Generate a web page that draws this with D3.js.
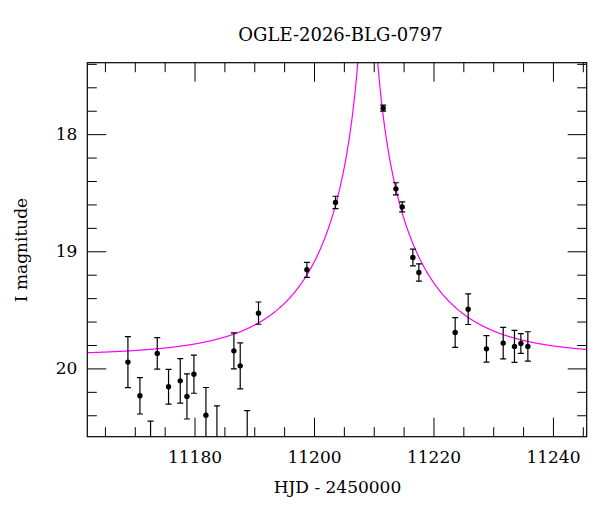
<!DOCTYPE html>
<html>
<head>
<meta charset="utf-8">
<script src="https://cdn.jsdelivr.net/npm/d3@7"></script>
<style>
  body { margin: 0; background: #fff; }
  text { font-family: "DejaVu Serif", serif; fill: #000; }
</style>
</head>
<body>
<div id="chart"></div>
<script>
// photometry, HJD - 2450000, I mag, 1-sigma errors
const hjd = [11168.85, 11170.86, 11172.64, 11173.76, 11175.65, 11177.61, 11178.73,
  11179.90, 11181.91, 11183.75, 11186.59, 11187.65, 11188.82, 11190.71, 11198.81,
  11203.60, 11211.58, 11213.71, 11214.76, 11216.55, 11217.56, 11223.63, 11225.81,
  11228.87, 11231.67, 11233.56, 11234.63, 11235.80];
const mag = [19.946, 20.234, 20.70, 19.872, 20.157, 20.106, 20.239,
  20.049, 20.399, 20.62, 19.850, 19.978, 20.64, 19.528, 19.158,
  18.583, 17.778, 18.467, 18.621, 19.053, 19.181, 19.693, 19.494,
  19.833, 19.784, 19.812, 19.787, 19.812];
const magErr = [0.218, 0.155, 0.25, 0.134, 0.148, 0.190, 0.193,
  0.163, 0.236, 0.30, 0.154, 0.196, 0.28, 0.095, 0.064,
  0.053, 0.025, 0.052, 0.043, 0.071, 0.074, 0.127, 0.131,
  0.113, 0.135, 0.137, 0.084, 0.125];

// point-lens model parameters
const t0 = 11209.0, tE = 17.0, u0 = 0.02, baseMag = 19.89;

const xTickLabels = [11180, 11200, 11220, 11240];
const yTickLabels = [18, 19, 20];

let margin = {top: 62.7, right: 13.3, bottom: 75.3, left: 87.3},
  width = 600 - margin.left - margin.right,
  height = 512 - margin.top - margin.bottom;

let svg = d3.select("#chart")
  .append("svg")
    .attr("width", 600)
    .attr("height", 512);

let g = svg.append("g")
    .attr("transform", "translate(" + margin.left + "," + margin.top + ")");

let x = d3.scaleLinear().domain([11162.05, 11245.65]).range([0, width]);
let y = d3.scaleLinear().domain([17.39, 20.583]).range([0, height]);

let xMinor = d3.range(11165, 11246, 5).filter(d => xTickLabels.indexOf(d) < 0);
let yMinor = d3.range(17.4, 20.5, 0.2).map(d => +d.toFixed(1)).filter(d => yTickLabels.indexOf(d) < 0);

function styleAxis(sel) {
  sel.select(".domain").remove();
  sel.selectAll("line").attr("stroke", "#000").attr("stroke-width", 1);
  sel.selectAll("text").attr("font-size", "17px").attr("font-family", "DejaVu Serif");
}

// bottom
g.append("g").attr("transform", "translate(0," + height + ")")
  .call(d3.axisBottom(x).tickValues(xTickLabels).tickSize(-19).tickPadding(14).tickFormat(d3.format("d")))
  .call(styleAxis);
g.append("g").attr("transform", "translate(0," + height + ")")
  .call(d3.axisBottom(x).tickValues(xMinor).tickSize(-9.5).tickFormat(""))
  .call(styleAxis);
// top
g.append("g")
  .call(d3.axisTop(x).tickValues(xTickLabels).tickSize(-19).tickFormat(""))
  .call(styleAxis);
g.append("g")
  .call(d3.axisTop(x).tickValues(xMinor).tickSize(-9.5).tickFormat(""))
  .call(styleAxis);
// left
g.append("g")
  .call(d3.axisLeft(y).tickValues(yTickLabels).tickSize(-19).tickPadding(10).tickFormat(d3.format("d")))
  .call(styleAxis);
g.append("g")
  .call(d3.axisLeft(y).tickValues(yMinor).tickSize(-9.5).tickFormat(""))
  .call(styleAxis);
// right
g.append("g").attr("transform", "translate(" + width + ",0)")
  .call(d3.axisRight(y).tickValues(yTickLabels).tickSize(-19).tickFormat(""))
  .call(styleAxis);
g.append("g").attr("transform", "translate(" + width + ",0)")
  .call(d3.axisRight(y).tickValues(yMinor).tickSize(-9.5).tickFormat(""))
  .call(styleAxis);

// clip to the frame
g.append("clipPath").attr("id", "clip")
  .append("rect").attr("width", width).attr("height", height);
let plot = g.append("g").attr("clip-path", "url(#clip)");

// model curve
function modelMag(t) {
  let tau = (t - t0) / tE;
  let u = Math.sqrt(u0 * u0 + tau * tau);
  let A = (u * u + 2) / (u * Math.sqrt(u * u + 4));
  return baseMag - 2.5 * Math.log10(A);
}
let ts = d3.range(x.domain()[0], x.domain()[1], 0.05);
plot.append("path")
  .datum(ts)
  .attr("fill", "none")
  .attr("stroke", "#ff00ff")
  .attr("stroke-width", 1.2)
  .attr("d", d3.line().x(d => x(d)).y(d => y(modelMag(d))));

// error bars
let pts = hjd.map((t, i) => ({t: t, m: mag[i], e: magErr[i]}));
let bars = plot.selectAll(".eb").data(pts).enter().append("g")
  .attr("stroke", "#000").attr("stroke-width", 1.2);
bars.append("line")
  .attr("x1", d => x(d.t)).attr("x2", d => x(d.t))
  .attr("y1", d => y(d.m - d.e)).attr("y2", d => y(d.m + d.e));
bars.append("line")
  .attr("x1", d => x(d.t) - 3).attr("x2", d => x(d.t) + 3)
  .attr("y1", d => y(d.m - d.e)).attr("y2", d => y(d.m - d.e));
bars.append("line")
  .attr("x1", d => x(d.t) - 3).attr("x2", d => x(d.t) + 3)
  .attr("y1", d => y(d.m + d.e)).attr("y2", d => y(d.m + d.e));

plot.selectAll("circle").data(pts).enter().append("circle")
  .attr("cx", d => x(d.t))
  .attr("cy", d => y(d.m))
  .attr("r", 2.7)
  .attr("fill", "#000");

// frame
g.append("rect")
  .attr("width", width).attr("height", height)
  .attr("fill", "none").attr("stroke", "#000").attr("stroke-width", 1.2);

// titles
svg.append("text")
  .attr("x", 340.5).attr("y", 41)
  .attr("text-anchor", "middle")
  .attr("font-size", "18px")
  .text("OGLE-2026-BLG-0797");

svg.append("text")
  .attr("x", 337.5).attr("y", 493)
  .attr("text-anchor", "middle")
  .attr("font-size", "17px")
  .text("HJD - 2450000");

svg.append("text")
  .attr("transform", "translate(27,250) rotate(-90)")
  .attr("text-anchor", "middle")
  .attr("font-size", "17px")
  .text("I magnitude");
</script>
</body>
</html>
